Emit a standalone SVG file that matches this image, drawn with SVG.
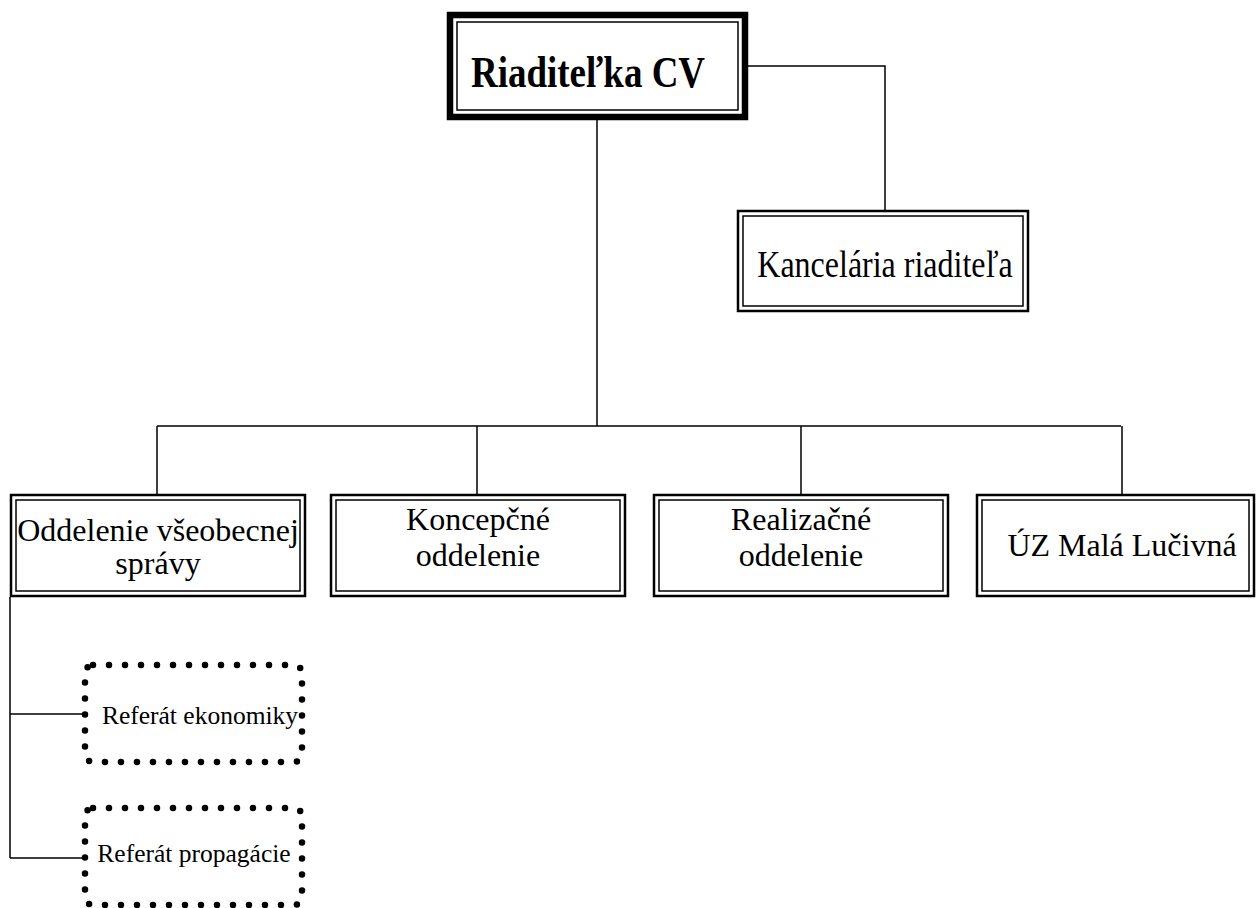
<svg xmlns="http://www.w3.org/2000/svg" width="1256" height="908" viewBox="0 0 1256 908">
<style>
.t{font-family:"Liberation Serif","Times New Roman",serif;fill:#000;text-anchor:middle}
.o{fill:#fff;stroke:#000;stroke-width:2.5}
.i{fill:none;stroke:#000;stroke-width:1.5}
.c{fill:none;stroke:#000;stroke-width:1.5}
.d{fill:#fff;stroke:#000;stroke-width:6.5;stroke-dasharray:0 16;stroke-linecap:round}
</style>
<rect width="1256" height="908" fill="#fff"/>
<g id="connectors">
<path class="c" d="M748 66H885V210"/>
<path class="c" d="M597 120V426"/>
<path class="c" d="M157 426H1121"/>
<path class="c" d="M157 426V494M477 426V494M801 426V494M1122 426V497"/>
<path class="c" d="M10 597V858M10 714H83M10 858H83"/>
</g>
<g id="n-riaditelka">
<rect x="450" y="15" width="295" height="102" fill="#fff" stroke="#000" stroke-width="6.5"/>
<rect x="457" y="22" width="281" height="88" class="i"/>
<text class="t" transform="translate(588 87) scale(1 1.2)" font-size="37" font-weight="bold">Riaditeľka CV</text>
</g>
<g id="n-kancelaria">
<rect x="738" y="211" width="290" height="100" class="o"/>
<rect x="743" y="216" width="280" height="90" class="i"/>
<text class="t" transform="translate(885 277) scale(1 1.2)" font-size="32">Kancelária riaditeľa</text>
</g>
<g id="n-oddelenie">
<rect x="11" y="495" width="294" height="101" class="o"/>
<rect x="16" y="500" width="284" height="91" class="i"/>
<text class="t" x="158" y="541" font-size="32">Oddelenie všeobecnej</text>
<text class="t" x="158" y="574" font-size="32">správy</text>
</g>
<g id="n-koncepcne">
<rect x="331" y="495" width="294" height="101" class="o"/>
<rect x="336" y="500" width="284" height="91" class="i"/>
<text class="t" x="478" y="530" font-size="32">Koncepčné</text>
<text class="t" x="478" y="566" font-size="32">oddelenie</text>
</g>
<g id="n-realizacne">
<rect x="654" y="495" width="294" height="101" class="o"/>
<rect x="659" y="500" width="284" height="91" class="i"/>
<text class="t" x="801" y="530" font-size="32">Realizačné</text>
<text class="t" x="801" y="566" font-size="32">oddelenie</text>
</g>
<g id="n-uz">
<rect x="977" y="495" width="277" height="101" class="o"/>
<rect x="982" y="500" width="267" height="91" class="i"/>
<text class="t" x="1122" y="556" font-size="32">ÚZ Malá Lučivná</text>
</g>
<g id="n-ekonomiky">
<rect x="85" y="665" width="217" height="97" rx="8" class="d"/>
<text class="t" x="200" y="724" font-size="25.5">Referát ekonomiky</text>
</g>
<g id="n-propagacie">
<rect x="85" y="808" width="217" height="97" rx="8" class="d"/>
<text class="t" x="194" y="862" font-size="25.5">Referát propagácie</text>
</g>
</svg>
